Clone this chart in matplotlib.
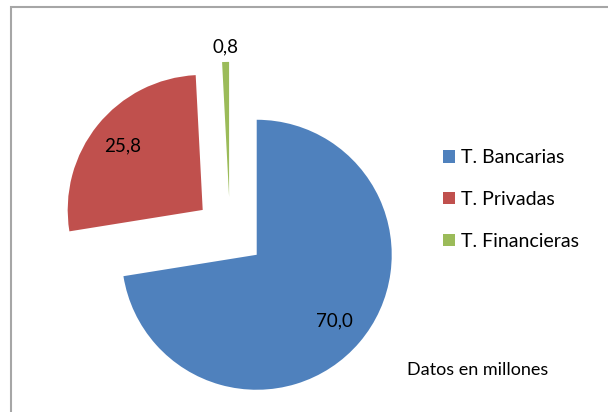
import matplotlib.pyplot as plt
from matplotlib.patches import Rectangle
import numpy as np

# Tarjetas emitidas (datos en millones)
categories = ['T. Bancarias', 'T. Privadas', 'T. Financieras']
values = [70.0, 25.8, 0.8]
colors = ['#4F81BD', '#C0504D', '#9BBB59']

plt.rcParams['font.family'] = ['Lato', 'DejaVu Sans']

fig = plt.figure(figsize=(6.08, 4.12), dpi=100)
ax = fig.add_axes([0, 0, 1, 1])

# pie drawn in pixel-like data units; explode is in data units too
radius = 135
explode = [0.26 * radius] * len(values)
wedges, _ = ax.pie(values, colors=colors, explode=explode, startangle=90,
                   counterclock=False, center=(230, 180), radius=radius,
                   wedgeprops={'linewidth': 0})

# pie() rescales the axes, so fix the limits afterwards
ax.set_xlim(0, 608)
ax.set_ylim(0, 412)
ax.set_aspect('equal')
ax.axis('off')

# value labels: inside for the big slices, outside for the thin one
for w, v in zip(wedges, values):
    mid = np.deg2rad((w.theta1 + w.theta2) / 2)
    dist = 0.76 if v > 5 else 1.11
    x = w.center[0] + dist * w.r * np.cos(mid)
    y = w.center[1] + dist * w.r * np.sin(mid)
    ax.text(x, y, f'{v:.1f}'.replace('.', ','), ha='center', va='center',
            fontsize=13.5, color='black')

leg = ax.legend(wedges, categories, loc='upper left', bbox_to_anchor=(0.70, 0.68),
                frameon=False, fontsize=14, handlelength=0.6, handleheight=0.6,
                handletextpad=0.3, labelspacing=1.27)

ax.text(407, 412 - 370, 'Datos en millones', fontsize=13, ha='left', va='center')

# chart area border (runs off the right and bottom edges)
fig.patches.append(Rectangle((10.5 / 608, -0.1), 1.0, (412 - 7) / 412 + 0.1,
                             transform=fig.transFigure, fill=False,
                             edgecolor='#A6A6A6', linewidth=1.5))

plt.savefig('out.png', dpi=100)
